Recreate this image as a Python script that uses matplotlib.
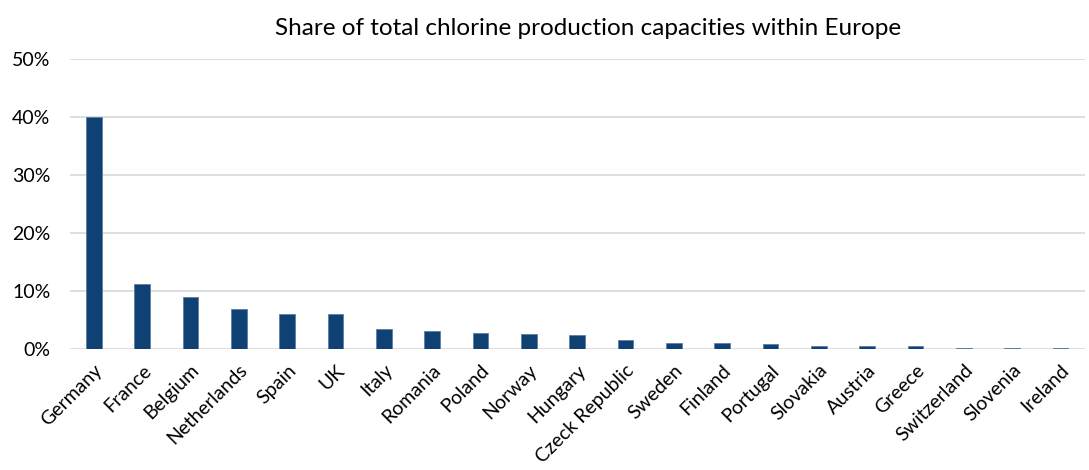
import matplotlib.pyplot as plt
from matplotlib.ticker import PercentFormatter

countries = ['Germany', 'France', 'Belgium', 'Netherlands', 'Spain', 'UK', 'Italy',
             'Romania', 'Poland', 'Norway', 'Hungary', 'Czeck Republic', 'Sweden',
             'Finland', 'Portugal', 'Slovakia', 'Austria', 'Greece', 'Switzerland',
             'Slovenia', 'Ireland']
share = [40.0, 11.2, 9.0, 6.9, 6.1, 6.0, 3.45, 3.1, 2.75, 2.6, 2.35, 1.55, 1.0,
         1.0, 0.8, 0.6, 0.55, 0.55, 0.25, 0.15, 0.1]

plt.rcParams['font.family'] = ['Lato', 'DejaVu Sans']

fig = plt.figure(figsize=(10.89, 4.70), dpi=100)
ax = fig.add_axes([0.064, 0.2574, 0.932, 0.6171])

x = range(len(countries))
ax.bar(x, share, width=0.33, color='#0F4174', edgecolor='#5B7FA6', linewidth=0.6, zorder=3)

ax.set_ylim(0, 50)
ax.set_xlim(-0.5, len(countries) - 0.5)
ax.set_yticks(range(0, 51, 10))
ax.yaxis.set_major_formatter(PercentFormatter(decimals=0))
ax.grid(axis='y', color='#D9D9D9', lw=1.2, zorder=0)
for s in ax.spines.values():
    s.set_visible(False)
ax.tick_params(length=0, labelsize=14, colors='#000000')
ax.tick_params(axis='y', pad=14)
ax.tick_params(axis='x', pad=9)
ax.set_xticks(list(x))
ax.set_xticklabels(countries, rotation=45, ha='right', rotation_mode='anchor')

fig.text(0.54, 0.94, 'Share of total chlorine production capacities within Europe',
         ha='center', va='center', fontsize=17.5)

fig.savefig('out.png', dpi=100)
